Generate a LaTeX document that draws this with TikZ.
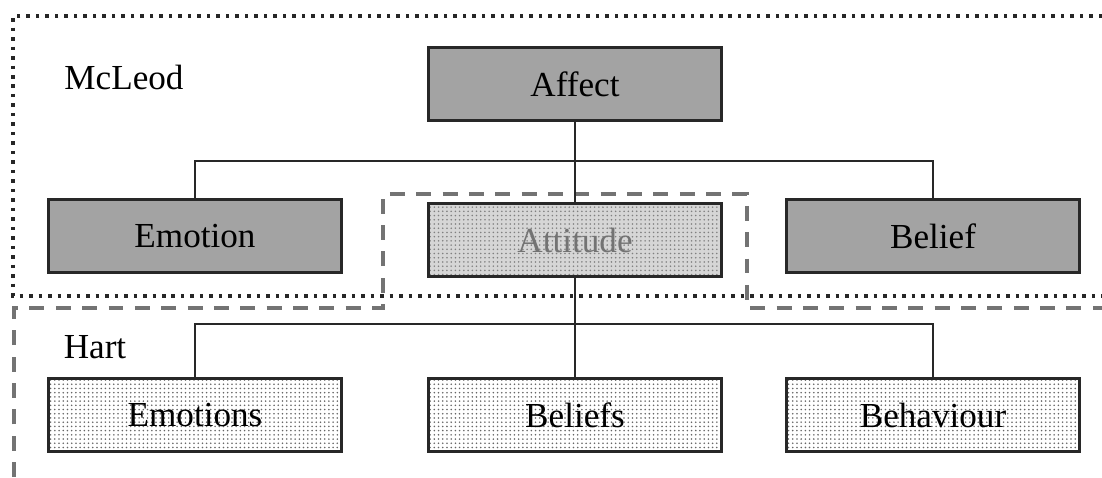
\documentclass[tikz,border=0pt]{standalone}
\usepackage{fontspec}
\setmainfont{Liberation Serif}
\usepackage{tikz}
\usetikzlibrary{positioning,patterns.meta}
\definecolor{oscuro}{RGB}{163,163,163}
\definecolor{claro}{RGB}{214,214,214}
\definecolor{borde}{RGB}{40,40,40}
\tikzdeclarepattern{name=puntos, type=uncolored,
  bounding box={(-1.2pt,-1.2pt) and (1.2pt,1.2pt)},
  tile size={(2.4pt,2.4pt)},
  code={\pgfpathcircle{\pgfpointorigin}{0.5pt}\pgfusepath{fill}}}

\begin{document}
\begin{tikzpicture}[x=0.02cm, y=-0.02cm,
  caja/.style={draw=borde, line width=1.4pt, minimum width=5.86cm,
    minimum height=1.46cm, inner sep=0pt,
    font=\fontsize{20}{24}\selectfont},
  mcleodbox/.style={caja, fill=oscuro},
  hartbox/.style={caja, preaction={fill=white}, pattern=puntos,
    pattern color=black!60},
  enlace/.style={line width=1.3pt, draw=borde},
  zona/.style={line width=2pt, black!85, dash pattern=on 2pt off 3.4pt},
  marco/.style={line width=2pt, black!55, dash pattern=on 8.5pt off 6.5pt},
  rotulo/.style={font=\fontsize{20}{24}\selectfont, inner sep=0pt},
]
  \useasboundingbox (0,0) rectangle (1102,477);
  % Zonas de cada autor
  \draw[zona] (1102,16) -- (13,16) -- (13,296) -- (1102,296);
  \draw[marco] (14,477) -- (14,308) -- (383,308) -- (383,194)
    -- (747,194) -- (747,308) -- (1102,308);
  \node[rotulo] (mcleod) at (124,77) {McLeod};
  \node[rotulo] (hart) at (95,347) {Hart};
  % Nivel McLeod
  \node[mcleodbox] (affect) at (575,84) {Affect};
  \node[mcleodbox] (emotion) at (195,236) {Emotion};
  \node[mcleodbox] (belief) at (933,236) {Belief};
  \node[caja, preaction={fill=claro}, pattern=puntos,
    pattern color=black!50, text=black!55] (attitude) at (575,240) {Attitude};
  % Nivel Hart
  \node[hartbox] (emotions) at (195,415) {Emotions};
  \node[hartbox] (beliefs) at (575,415) {Beliefs};
  \node[hartbox] (behaviour) at (933,415) {Behaviour};
  % Conexiones
  \coordinate (jtop) at (575,161);
  \coordinate (jbot) at (575,324);
  \draw[enlace] (affect.south) -- (attitude.north);
  \draw[enlace] (emotion.north) |- (jtop) -| (belief.north);
  \draw[enlace] (attitude.south) -- (beliefs.north);
  \draw[enlace] (emotions.north) |- (jbot) -| (behaviour.north);
\end{tikzpicture}
\end{document}
